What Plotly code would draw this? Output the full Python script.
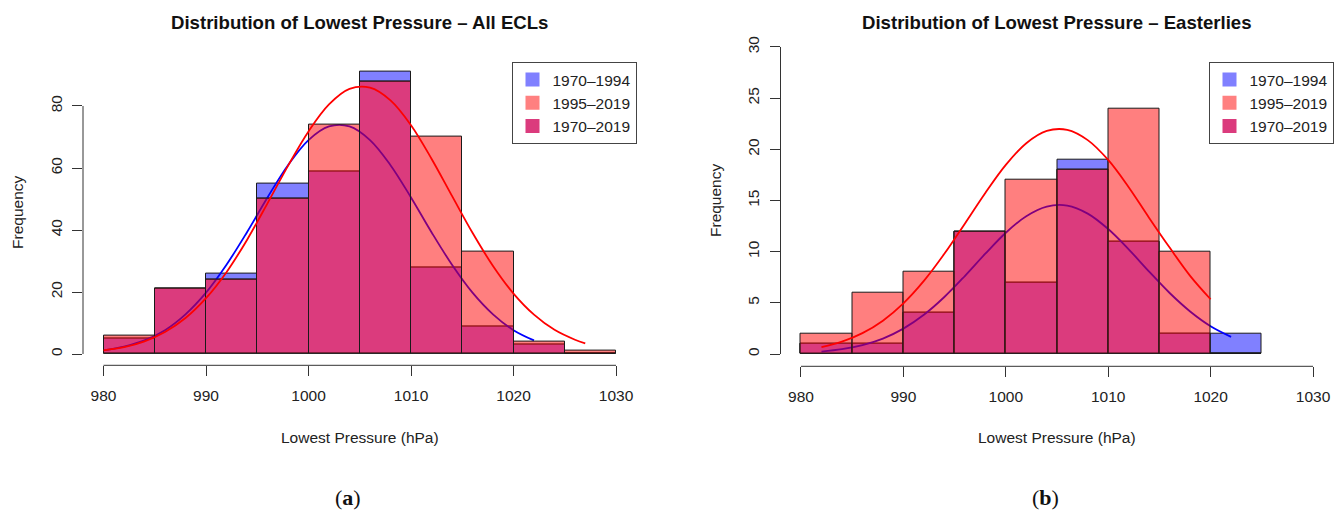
import plotly.graph_objects as go

W, H = 1341, 515

# Histogram bin edges (hPa)
all_breaks = [980, 985, 990, 995, 1000, 1005, 1010, 1015, 1020, 1025, 1030]
east_breaks = [980, 985, 990, 995, 1000, 1005, 1010, 1015, 1020, 1025]

# All ECLs: counts per bin
all_1970_1994 = [5, 21, 26, 55, 59, 91, 28, 9, 3, 0]
all_1995_2019 = [6, 21, 24, 50, 74, 88, 70, 33, 4, 1]

# Easterlies: counts per bin
east_1970_1994 = [1, 1, 4, 12, 7, 19, 11, 2, 2]
east_1995_2019 = [2, 6, 8, 12, 17, 18, 24, 10, 0]

# Fitted normal curves (scaled to counts)
all_blue_x = [980, 982, 984, 986, 988, 990, 992, 994, 996, 998, 1000, 1002,
              1004, 1006, 1008, 1010, 1012, 1014, 1016, 1018, 1020, 1022]
all_blue_y = [1.2, 2.4, 4.4, 7.7, 12.8, 19.8, 28.8, 39.3, 50.5, 60.9, 69.0, 73.4,
              73.4, 69.0, 60.9, 50.5, 39.3, 28.8, 19.8, 12.8, 7.7, 4.4]
all_red_x = [980, 982, 984, 986, 988, 990, 992, 994, 996, 998, 1000, 1002, 1004,
             1006, 1008, 1010, 1012, 1014, 1016, 1018, 1020, 1022, 1024, 1026, 1027]
all_red_y = [1.2, 2.2, 4.1, 7.1, 11.6, 18.0, 26.4, 36.8, 48.6, 60.7, 71.8, 80.5, 85.5,
             85.9, 81.8, 73.8, 63.0, 51.0, 39.1, 28.4, 19.5, 12.7, 7.8, 4.6, 3.4]

east_blue_x = [982, 984, 986, 988, 990, 992, 994, 996, 998, 1000, 1002,
               1004, 1006, 1008, 1010, 1012, 1014, 1016, 1018, 1020, 1022]
east_blue_y = [0.24, 0.47, 0.87, 1.51, 2.48, 3.83, 5.57, 7.62, 9.80, 11.85, 13.47,
               14.41, 14.50, 13.72, 12.21, 10.23, 8.05, 5.96, 4.16, 2.72, 1.68]
east_red_x = [982, 984, 986, 988, 990, 992, 994, 996, 998, 1000, 1002,
              1004, 1006, 1008, 1010, 1012, 1014, 1016, 1018, 1020]
east_red_y = [0.68, 1.21, 2.04, 3.26, 4.95, 7.14, 9.79, 12.74, 15.74, 18.48, 20.6,
              21.8, 21.9, 20.9, 18.96, 16.3, 13.3, 10.4, 7.64, 5.35]

titles = ["Distribution of Lowest Pressure \u2013 All ECLs",
          "Distribution of Lowest Pressure \u2013 Easterlies"]
legend_names = ["1970\u20131994", "1995\u20132019", "1970\u20132019"]
x_ticks = [980, 990, 1000, 1010, 1020, 1030]
y_ticks_all = [0, 20, 40, 60, 80]
y_ticks_east = [0, 5, 10, 15, 20, 25, 30]
panel_tags = ["(<b>a</b>)", "(<b>b</b>)"]

FONT = "Liberation Sans, Arial, sans-serif"
BLUE_FILL = "#8080FF"
RED_FILL = "rgba(255,0,0,0.5)"
MIX_TINT = "rgb(183,118,250)"      # under the translucent red -> magenta overlap
MIX_LEGEND = "rgb(219,59,125)"
EDGE = "#1a1a1a"
AX = "#333333"


def px_dom_x(a, b):
    return [a / W, b / W]


def px_dom_y(top, bottom):
    return [1 - bottom / H, 1 - top / H]


fig = go.Figure()

panels = [
    dict(breaks=all_breaks, blue=all_1970_1994, red=all_1995_2019,
         bx=all_blue_x, by=all_blue_y, rx=all_red_x, ry=all_red_y,
         base=("x", "y"), over=("x3", "y3"),
         legend="legend", yticks=y_ticks_all, ymax=91,
         xdom=px_dom_x(83, 636.5), ydom=px_dom_y(60.6, 365.3)),
    dict(breaks=east_breaks, blue=east_1970_1994, red=east_1995_2019,
         bx=east_blue_x, by=east_blue_y, rx=east_red_x, ry=east_red_y,
         base=("x2", "y2"), over=("x4", "y4"),
         legend="legend2", yticks=y_ticks_east, ymax=30,
         xdom=px_dom_x(780.5, 1333.5), ydom=px_dom_y(34.7, 366.3)),
]

for p in panels:
    br = p["breaks"]
    centers = [(a + b) / 2 for a, b in zip(br[:-1], br[1:])]
    width = br[1] - br[0]
    bx_ax, by_ax = p["base"]
    ox_ax, oy_ax = p["over"]
    overlap = [min(b, r) for b, r in zip(p["blue"], p["red"])]
    # base layer: 1970-1994 bars, overlap tint, 1970-1994 curve
    fig.add_trace(go.Bar(x=centers, y=p["blue"], width=width, xaxis=bx_ax, yaxis=by_ax,
                         marker=dict(color=BLUE_FILL, line=dict(color=EDGE, width=1)),
                         showlegend=False, hoverinfo="skip"))
    fig.add_trace(go.Bar(x=centers, y=overlap, width=width, xaxis=bx_ax, yaxis=by_ax,
                         marker=dict(color=MIX_TINT, line=dict(color=EDGE, width=1)),
                         showlegend=False, hoverinfo="skip"))
    fig.add_trace(go.Scatter(x=p["bx"], y=p["by"], mode="lines", xaxis=bx_ax, yaxis=by_ax,
                             line=dict(color="#0000FF", width=1.8, shape="spline"),
                             showlegend=False, hoverinfo="skip"))
    # overlay layer: translucent 1995-2019 bars and curve
    fig.add_trace(go.Bar(x=centers, y=p["red"], width=width, xaxis=ox_ax, yaxis=oy_ax,
                         marker=dict(color=RED_FILL, line=dict(color=EDGE, width=1)),
                         showlegend=False, hoverinfo="skip"))
    fig.add_trace(go.Scatter(x=p["rx"], y=p["ry"], mode="lines", xaxis=ox_ax, yaxis=oy_ax,
                             line=dict(color="#FF0000", width=1.8, shape="spline"),
                             showlegend=False, hoverinfo="skip"))
    # legend entries
    for name, col in zip(legend_names, [BLUE_FILL, "#FF8080", MIX_LEGEND]):
        fig.add_trace(go.Scatter(x=[None], y=[None], mode="markers", name=name,
                                 xaxis=ox_ax, yaxis=oy_ax, legend=p["legend"],
                                 marker=dict(symbol="square", size=14, color=col,
                                             line=dict(width=0))))

layout = dict(
    width=W, height=H, margin=dict(l=0, r=0, t=0, b=0),
    paper_bgcolor="white", plot_bgcolor="rgba(0,0,0,0)",
    barmode="overlay", bargap=0, showlegend=True,
    font=dict(family=FONT, size=15.5, color="#222222"),
)

annotations = []
shapes = []
for i, p in enumerate(panels):
    bxn = p["base"][0].replace("x", "xaxis")
    byn = p["base"][1].replace("y", "yaxis")
    oxn = p["over"][0].replace("x", "xaxis")
    oyn = p["over"][1].replace("y", "yaxis")
    span = x_ticks[-1] - x_ticks[0]
    xr = [x_ticks[0] - 0.04 * span, x_ticks[-1] + 0.04 * span]
    yr = [-0.04 * p["ymax"], p["ymax"] * 1.04]
    layout[bxn] = dict(domain=p["xdom"], range=xr, anchor=p["base"][1], showline=False,
                       showgrid=False, zeroline=False, tickvals=x_ticks, ticks="outside",
                       ticklen=10, tickwidth=1, tickcolor=AX, ticklabelstandoff=6,
                       tickfont=dict(size=15.5, color="#222"))
    layout[byn] = dict(domain=p["ydom"], range=yr, anchor=p["base"][0], showline=False,
                       showgrid=False, zeroline=False, tickvals=p["yticks"], ticks="outside",
                       ticklen=10, tickwidth=1, tickcolor=AX, tickangle=-90,
                       ticklabelstandoff=4, tickfont=dict(size=15.5, color="#222"))
    layout[oxn] = dict(overlaying=p["base"][0], anchor=p["over"][1], range=xr, visible=False)
    layout[oyn] = dict(overlaying=p["base"][1], anchor=p["over"][0], range=yr, visible=False)

    # R-style axis lines spanning only the labelled range
    shapes.append(dict(type="line", xref=p["base"][0], yref=p["base"][1] + " domain",
                       x0=x_ticks[0], x1=x_ticks[-1], y0=0, y1=0,
                       line=dict(color=AX, width=1)))
    shapes.append(dict(type="line", xref=p["base"][0] + " domain", yref=p["base"][1],
                       x0=0, x1=0, y0=p["yticks"][0], y1=p["yticks"][-1],
                       line=dict(color=AX, width=1)))

    cx = (p["xdom"][0] + p["xdom"][1]) / 2
    cy = (p["ydom"][0] + p["ydom"][1]) / 2
    common = dict(xref="paper", yref="paper", showarrow=False,
                  xanchor="center", yanchor="middle")
    annotations.append(dict(text="<b>" + titles[i] + "</b>", x=cx, y=1 - 22 / H,
                            font=dict(size=18.6, color="#111"), **common))
    annotations.append(dict(text="Lowest Pressure (hPa)", x=cx, y=1 - 437 / H,
                            font=dict(size=15.5, color="#222"), **common))
    annotations.append(dict(text="Frequency", x=p["xdom"][0] - 65 / W, y=cy,
                            textangle=-90, font=dict(size=15.5, color="#222"), **common))
    annotations.append(dict(text=panel_tags[i], x=(cx - 12 / W), y=1 - 497 / H,
                            font=dict(family="Liberation Serif, serif", size=22, color="#111"),
                            **common))

    legend_cfg = dict(x=p["xdom"][1], xanchor="right", y=1 - 62 / H, yanchor="top",
                      bordercolor="#444", borderwidth=1, bgcolor="white",
                      font=dict(size=15.5, color="#222"), itemwidth=30, tracegroupgap=0)
    layout[p["legend"]] = legend_cfg

layout["annotations"] = annotations
layout["shapes"] = shapes
fig.update_layout(**layout)

fig.write_html("out.html")
